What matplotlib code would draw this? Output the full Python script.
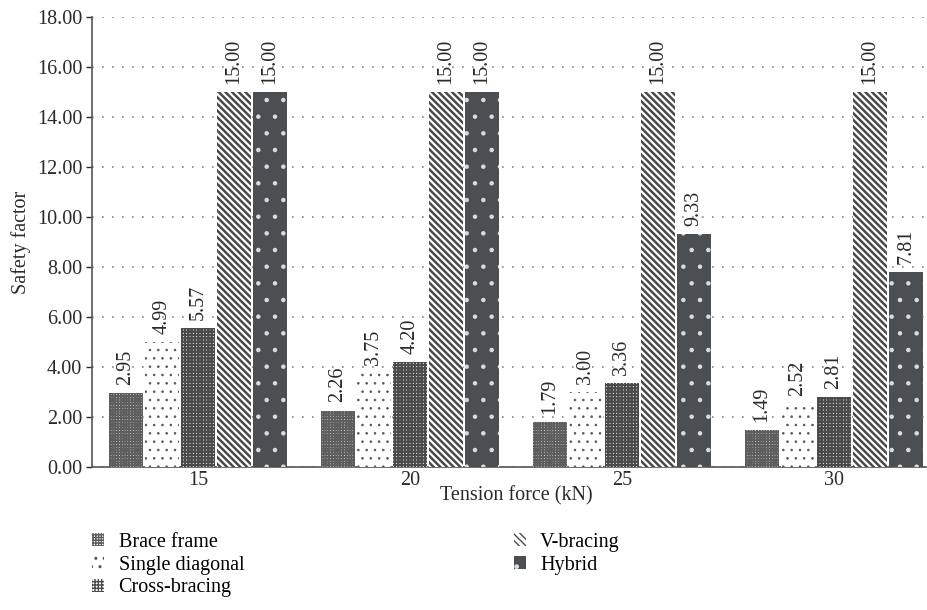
import matplotlib
matplotlib.use("Agg")
import matplotlib.pyplot as plt
from matplotlib.patches import Patch
import numpy as np

# Safety factor per bracing system at each tension force
forces = ["15", "20", "25", "30"]
series = ["Brace frame", "Single diagonal", "Cross-bracing", "V-bracing", "Hybrid"]
brace_frame = [2.95, 2.26, 1.79, 1.49]
single_diagonal = [4.99, 3.75, 3.00, 2.52]
cross_bracing = [5.57, 4.20, 3.36, 2.81]
v_bracing = [15.00, 15.00, 15.00, 15.00]
hybrid = [15.00, 15.00, 9.33, 7.81]

values = [brace_frame, single_diagonal, cross_bracing, v_bracing, hybrid]

# fill style for each series: (facecolor, hatch colour, hatch, hatch linewidth)
styles = [
    ("white", "#5e5e5e", "++++++", 1.4),
    ("white", "#555555", "..", 0.6),
    ("white", "#4a4a4a", "+++++", 1.6),
    ("white", "#4a4a4a", "\\\\\\\\\\", 1.8),
    ("#4b4f51", "#dcdcdc", ".", 0.8),
]

plt.rcParams["font.family"] = ["Liberation Serif", "DejaVu Serif"]
txt = "#2a2a2a"
fs = 14.5


def styled_patch(p, hlw):
    if hasattr(p, "set_hatch_linewidth"):
        p.set_hatch_linewidth(hlw)


fig = plt.figure(figsize=(9.28, 6.10), dpi=100)
ax = fig.add_axes([0.099, 0.234, 0.914, 0.738])

x = np.arange(len(forces))
width = 0.16
step = 0.17
for i, (name, vals) in enumerate(zip(series, values)):
    fc, hc, hatch, hlw = styles[i]
    pos = x + (i - 2) * step
    with plt.rc_context({"hatch.linewidth": hlw}):
        bars = ax.bar(pos, vals, width, color=fc, edgecolor=hc, hatch=hatch,
                      linewidth=0, label=name, zorder=3)
    for b, v in zip(bars, vals):
        styled_patch(b, hlw)
        ax.annotate(f"{v:.2f}", (b.get_x() + b.get_width() / 2, v),
                    xytext=(0, 6), textcoords="offset points",
                    rotation=90, ha="center", va="bottom",
                    fontsize=fs, color=txt)

ax.set_ylim(0, 18)
ax.set_yticks(np.arange(0, 18.01, 2))
ax.set_yticklabels([f"{t:.2f}" for t in np.arange(0, 18.01, 2)])
ax.set_xlim(-0.5, 3.5)
ax.set_xticks(x)
ax.set_xticklabels(forces)
ax.tick_params(axis="x", length=0, pad=3, labelsize=fs, colors=txt)
ax.tick_params(axis="y", length=4, width=1, direction="out", labelsize=fs,
               colors=txt, pad=3)

ax.yaxis.grid(True, linestyle=(0, (1, 5)), color="#888888", linewidth=1.2)
ax.set_axisbelow(True)
for s in ["top", "right"]:
    ax.spines[s].set_visible(False)
for s in ["left", "bottom"]:
    ax.spines[s].set_color("#555555")
    ax.spines[s].set_linewidth(1.2)

ax.set_xlabel("Tension force (kN)", fontsize=fs, color=txt, labelpad=-3)
ax.set_ylabel("Safety factor", fontsize=fs, color=txt, labelpad=4)

handles = []
for fc, hc, hatch, hlw in styles:
    with plt.rc_context({"hatch.linewidth": hlw}):
        p = Patch(facecolor=fc, edgecolor=hc, hatch=hatch, linewidth=0)
    styled_patch(p, hlw)
    handles.append(p)
fig.legend(handles, series, loc="upper left", bbox_to_anchor=(0.08, 0.156),
           ncol=2, frameon=False, fontsize=fs, handlelength=0.6, handleheight=0.6,
           handletextpad=0.7, columnspacing=13.4, labelspacing=0.18)

fig.savefig("out.png", dpi=100)
